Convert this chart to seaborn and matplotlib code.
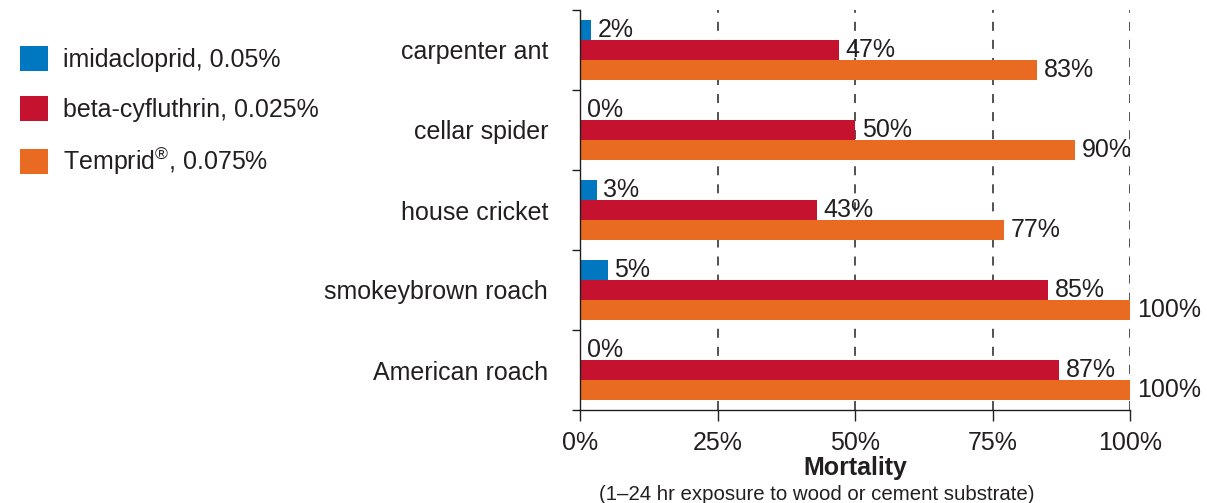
import pandas as pd
import matplotlib.pyplot as plt
import seaborn as sns

# chart values
species = ['carpenter ant', 'cellar spider', 'house cricket', 'smokeybrown roach', 'American roach']
treatments = ['imidacloprid, 0.05%', 'beta-cyfluthrin, 0.025%', r'Temprid$^{\mathregular{®}}$, 0.075%']
imidacloprid = [2, 0, 3, 5, 0]
beta_cyfluthrin = [47, 50, 43, 85, 87]
temprid = [83, 90, 77, 100, 100]
colors = ['#0077c1', '#c4122f', '#e96b21']
x_ticks = [0, 25, 50, 75, 100]

rows = []
for trt, vals in zip(treatments, [imidacloprid, beta_cyfluthrin, temprid]):
    for sp, v in zip(species, vals):
        rows.append({'species': sp, 'treatment': trt, 'mortality': v})
df = pd.DataFrame(rows)

sns.set_style('white')
plt.rcParams['font.family'] = ['Liberation Sans', 'DejaVu Sans']
plt.rcParams['text.color'] = '#231f20'
plt.rcParams['mathtext.fontset'] = 'custom'
plt.rcParams['mathtext.rm'] = 'Liberation Sans'

fig = plt.figure(figsize=(12.07, 5.03), dpi=100)
ax = fig.add_axes([580 / 1207, 1 - 410 / 503, 550 / 1207, 400 / 503])

sns.barplot(data=df, y='species', x='mortality', hue='treatment', order=species,
            hue_order=treatments, palette=colors, width=0.75, saturation=1,
            orient='h', linewidth=0, ax=ax)

for cont in ax.containers:
    ax.bar_label(cont, labels=[f'{v:g}%' for v in cont.datavalues], padding=5,
                 fontsize=18, color='#231f20')

ax.set_xlim(0, 100)
ax.set_ylim(4.5, -0.5)
ax.set_xticks(x_ticks)
ax.set_xticklabels([f'{t}%' for t in x_ticks], fontsize=18, color='#231f20')
ax.set_yticks(range(len(species)))
ax.set_yticklabels(species, fontsize=18, color='#231f20')
ax.set_yticks([i - 0.5 for i in range(len(species) + 1)], minor=True)
ax.tick_params(axis='y', which='major', length=0, pad=23)
ax.tick_params(axis='y', which='minor', length=6, color='#231f20', width=1, direction='out', left=True)
ax.tick_params(axis='x', length=8, color='#231f20', width=1, direction='out', bottom=True, pad=7)
ax.set_ylabel('')
ax.set_xlabel('')
for x in x_ticks[1:]:
    ax.axvline(x, color='#444444', lw=1.3, ls=(0, (5, 5)), zorder=0)

sns.despine(ax=ax, top=True, right=True)
for s in ['left', 'bottom']:
    ax.spines[s].set_color('#231f20')
    ax.spines[s].set_linewidth(1)

fig.text(855 / 1207, 1 - 468 / 503, 'Mortality', ha='center', va='center',
         fontsize=18, fontweight='bold')
fig.text(817 / 1207, 1 - 494 / 503, '(1–24 hr exposure to wood or cement substrate)',
         ha='center', va='center', fontsize=14.7)

sns.move_legend(ax, 'upper left', bbox_to_anchor=(-3 / 1207, 1 - 24 / 503),
                bbox_transform=fig.transFigure, frameon=False, title=None,
                fontsize=18, handlelength=1.15, handleheight=1.15,
                labelspacing=0.95, handletextpad=0.6)

plt.savefig('out.png', dpi=100)
